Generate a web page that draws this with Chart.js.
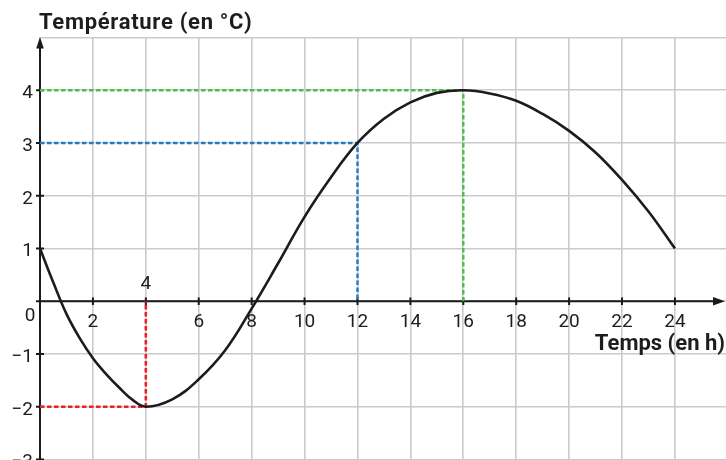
<!DOCTYPE html>
<html>
<head>
<meta charset="utf-8">
<script src="https://cdn.jsdelivr.net/npm/chart.js@4"></script>
<style>
  html, body { margin: 0; padding: 0; background: #ffffff; }
  #wrap { width: 726px; height: 460px; }
</style>
</head>
<body>
<div id="wrap"><canvas id="c" width="726" height="460"></canvas></div>
<script>
// ---- Data ----
const hours = [0,0.5,1,1.5,2,2.5,3,3.5,4,5,6,7,8,9,10,11,12,13,14,15,16,17,18,19,20,21,22,23,24];
const temps = [1,0.36,-0.24,-0.7,-1.08,-1.38,-1.64,-1.87,-2,-1.86,-1.48,-0.93,-0.14,0.72,1.6,2.35,3,3.46,3.77,3.95,4,3.94,3.8,3.55,3.23,2.82,2.3,1.7,1];

const xTickValues = [2,4,6,8,10,12,14,16,18,20,22,24];
const xTickLabels = ['2','','6','8','10','12','14','16','18','20','22','24'];
const yTickValues = [-3,-2,-1,1,2,3,4];
const yTickLabels = ['\u22123','\u22122','\u22121','1','2','3','4'];

// reading lines: [x, y]
const redPoint = [4, -2];
const bluePoint = [12, 3];
const greenPoint = [16, 4];

const yTitle = 'Température (en °C)';
const xTitle = 'Temps (en h)';

// ---- helpers ----
function readingLine(p) {
  return [{x: 0, y: p[1]}, {x: p[0], y: p[1]}, {x: p[0], y: 0}];
}
const curvePts = hours.map((h, i) => ({x: h, y: temps[i]}));

const TEXT = '#1d1d1f';
const AXIS = '#1a1a1a';

const axesPlugin = {
  id: 'axesPlugin',
  beforeDatasetsDraw(chart) {
    const {ctx, scales: {x, y}} = chart;
    const x0 = x.getPixelForValue(0);
    const y0 = y.getPixelForValue(0);
    ctx.save();
    ctx.strokeStyle = AXIS;
    ctx.fillStyle = AXIS;
    ctx.lineWidth = 2;
    // y axis
    const yTop = y.getPixelForValue(5);
    ctx.beginPath();
    ctx.moveTo(x0, chart.height);
    ctx.lineTo(x0, yTop + 8);
    ctx.stroke();
    ctx.beginPath();
    ctx.moveTo(x0, yTop - 0.5);
    ctx.lineTo(x0 - 3.8, yTop + 11);
    ctx.lineTo(x0 + 3.8, yTop + 11);
    ctx.closePath();
    ctx.fill();
    // x axis
    const xEnd = 725;
    ctx.beginPath();
    ctx.moveTo(x0 - 4, y0);
    ctx.lineTo(xEnd - 8, y0);
    ctx.stroke();
    ctx.beginPath();
    ctx.moveTo(xEnd, y0);
    ctx.lineTo(xEnd - 12, y0 - 4.2);
    ctx.lineTo(xEnd - 12, y0 + 4.2);
    ctx.closePath();
    ctx.fill();
    // ticks
    ctx.lineWidth = 2;
    xTickValues.forEach(v => {
      const px = x.getPixelForValue(v);
      ctx.beginPath();
      ctx.moveTo(px, y0 - 3.8);
      ctx.lineTo(px, y0 + 3.8);
      ctx.stroke();
    });
    yTickValues.forEach(v => {
      const py = y.getPixelForValue(v);
      ctx.beginPath();
      ctx.moveTo(x0 - 4, py);
      ctx.lineTo(x0 + 4, py);
      ctx.stroke();
    });
    ctx.restore();
  },
  afterDraw(chart) {
    const {ctx, scales: {x, y}} = chart;
    const x0 = x.getPixelForValue(0);
    const y0 = y.getPixelForValue(0);
    ctx.save();
    ctx.fillStyle = TEXT;
    ctx.font = '19px Roboto';
    ctx.textBaseline = 'alphabetic';
    // x tick labels
    ctx.textAlign = 'center';
    xTickValues.forEach((v, i) => {
      if (xTickLabels[i]) ctx.fillText(xTickLabels[i], x.getPixelForValue(v), y0 + 26);
    });
    // special "4" above axis
    ctx.fillText(String(redPoint[0]), x.getPixelForValue(redPoint[0]), y0 - 12);
    // origin
    ctx.fillText('0', x0 - 10, y0 + 20);
    // y tick labels
    ctx.textAlign = 'right';
    yTickValues.forEach((v, i) => {
      ctx.fillText(yTickLabels[i], x0 - 7, y.getPixelForValue(v) + 8);
    });
    // titles
    ctx.font = 'bold 22px Roboto';
    ctx.textAlign = 'left';
    if ('letterSpacing' in ctx) ctx.letterSpacing = '0.7px';
    ctx.fillText(yTitle, x0 - 1, 28.5);
    if ('letterSpacing' in ctx) ctx.letterSpacing = '0px';
    ctx.textAlign = 'right';
    ctx.fillText(xTitle, 725, 350);
    ctx.restore();
  }
};

new Chart(document.getElementById('c'), {
  type: 'line',
  data: {
    datasets: [
      {
        data: curvePts,
        borderColor: '#1c1c1c',
        borderWidth: 2.6,
        pointRadius: 0,
        tension: 0.4,
        fill: false
      },
      {
        data: readingLine(bluePoint),
        borderColor: '#1f7cc6',
        borderWidth: 2.4,
        borderDash: [4.5, 2.5],
        pointRadius: 0,
        tension: 0,
        fill: false
      },
      {
        data: readingLine(greenPoint),
        borderColor: '#4dbf48',
        borderWidth: 2.4,
        borderDash: [4.5, 2.5],
        pointRadius: 0,
        tension: 0,
        fill: false
      },
      {
        data: readingLine(redPoint),
        borderColor: '#ee2127',
        borderWidth: 2.6,
        borderDash: [4.5, 2.5],
        pointRadius: 0,
        tension: 0,
        fill: false
      }
    ]
  },
  options: {
    responsive: false,
    devicePixelRatio: 1,
    animation: false,
    layout: { padding: { left: 40, top: 37.5, right: 0, bottom: 0 } },
    plugins: { legend: { display: false }, tooltip: { enabled: false }, title: { display: false } },
    scales: {
      x: {
        type: 'linear',
        min: 0,
        max: 25.93,
        afterBuildTicks: s => { s.ticks = [0,2,4,6,8,10,12,14,16,18,20,22,24].map(v => ({value: v})); },
        afterFit: s => { s.height = 0; },
        ticks: { display: false },
        grid: { color: '#cbcbcf', lineWidth: 1.6, drawTicks: false },
        border: { display: false }
      },
      y: {
        type: 'linear',
        min: -3.01,
        max: 5,
        afterBuildTicks: s => { s.ticks = [-3,-2,-1,0,1,2,3,4,5].map(v => ({value: v})); },
        afterFit: s => { s.width = 0; },
        ticks: { display: false },
        grid: { color: '#cbcbcf', lineWidth: 1.6, drawTicks: false },
        border: { display: false }
      }
    }
  },
  plugins: [axesPlugin]
});
</script>
</body>
</html>
